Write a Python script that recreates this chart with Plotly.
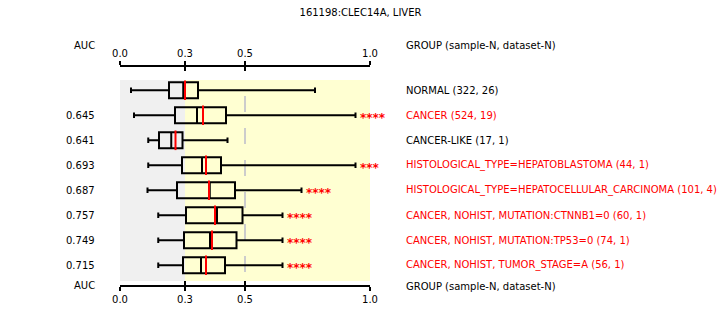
import plotly.graph_objects as go

# ---- data -------------------------------------------------------------
title_text = "161198:CLEC14A, LIVER"
groups = [
    "NORMAL (322, 26)",
    "CANCER (524, 19)",
    "CANCER-LIKE (17, 1)",
    "HISTOLOGICAL_TYPE=HEPATOBLASTOMA (44, 1)",
    "HISTOLOGICAL_TYPE=HEPATOCELLULAR_CARCINOMA (101, 4)",
    "CANCER, NOHIST, MUTATION:CTNNB1=0 (60, 1)",
    "CANCER, NOHIST, MUTATION:TP53=0 (74, 1)",
    "CANCER, NOHIST, TUMOR_STAGE=A (56, 1)",
]
highlight = [False, True, False, True, True, True, True, True]
auc = [None, "0.645", "0.641", "0.693", "0.687", "0.757", "0.749", "0.715"]
lower = [0.044, 0.056, 0.113, 0.113, 0.110, 0.153, 0.153, 0.153]
q1 = [0.196, 0.220, 0.156, 0.248, 0.228, 0.264, 0.256, 0.252]
median = [0.253, 0.308, 0.205, 0.328, 0.359, 0.388, 0.360, 0.324]
mean = [0.260, 0.332, 0.222, 0.344, 0.356, 0.380, 0.368, 0.344]
q3 = [0.312, 0.424, 0.250, 0.404, 0.460, 0.490, 0.466, 0.420]
upper = [0.780, 0.942, 0.430, 0.942, 0.726, 0.650, 0.650, 0.650]
stars = ["", "****", "", "***", "****", "****", "****", "****"]

tick_vals = [0.0, 0.26, 0.5, 1.0]
tick_text = ["0.0", "0.3", "0.5", "1.0"]
low_zone_end = 0.26      # end of the grey zone
ref_line = 0.5           # dashed reference

# ---- styling ------------------------------------------------------------
FONT = "DejaVu Sans"
RED = "#ff0000"
rows = list(range(len(groups)))

fig = go.Figure()

fig.add_trace(go.Box(
    orientation="h",
    y=rows,
    q1=q1, median=median, q3=q3,
    lowerfence=lower, upperfence=upper,
    width=0.64,
    whiskerwidth=0.34,
    fillcolor="rgba(0,0,0,0)",
    line=dict(color="black", width=2),
    boxpoints=False,
    hoverinfo="skip",
    showlegend=False,
))

# mean markers
fig.add_trace(go.Scatter(
    x=mean, y=rows, mode="markers",
    marker=dict(symbol="line-ns", size=14, color=RED,
                line=dict(color=RED, width=2)),
    hoverinfo="skip", showlegend=False,
))

# empty traces so the extra (top / tick-only) axes get drawn
for ax in ("x2", "x3", "x4"):
    fig.add_trace(go.Scatter(x=[None], y=[None], xaxis=ax, yaxis="y",
                             mode="markers", hoverinfo="skip", showlegend=False))

shapes = [
    dict(type="rect", xref="x", yref="y", x0=0, x1=low_zone_end,
         y0=-0.412, y1=7.628, fillcolor="#f0f0f0", line=dict(width=0), layer="below"),
    dict(type="rect", xref="x", yref="y", x0=low_zone_end, x1=1.0,
         y0=-0.412, y1=7.628, fillcolor="#ffffd2", line=dict(width=0), layer="below"),
    dict(type="line", xref="x", yref="y", x0=ref_line, x1=ref_line,
         y0=0.228, y1=7.628, line=dict(color="#cccccc", width=2, dash="16px,16px"),
         layer="below"),
]

annotations = []
for i in rows:
    color = RED if highlight[i] else "black"
    annotations.append(dict(
        x=1.136, xref="paper", y=i, yref="y", text=groups[i],
        xanchor="left", yanchor="middle", showarrow=False,
        font=dict(family=FONT, size=10, color=color)))
    if auc[i]:
        annotations.append(dict(
            x=-0.092, xref="paper", y=i, yref="y", text=auc[i],
            xanchor="right", yanchor="middle", showarrow=False,
            font=dict(family=FONT, size=10, color="black")))
    if stars[i]:
        annotations.append(dict(
            x=upper[i], xref="x", y=i, yref="y", text="<b>" + stars[i] + "</b>",
            xanchor="left", yanchor="middle", xshift=2, yshift=-3, showarrow=False,
            font=dict(family=FONT, size=12, color=RED)))

for ypos in (1.1009, -0.003):
    annotations.append(dict(
        x=-0.092, xref="paper", y=ypos, yref="paper", text="AUC",
        xanchor="right", yanchor="middle", showarrow=False,
        font=dict(family=FONT, size=10, color="black")))
for ypos in (1.1009, -0.009):
    annotations.append(dict(
        x=1.136, xref="paper", y=ypos, yref="paper", text="GROUP (sample-N, dataset-N)",
        xanchor="left", yanchor="middle", showarrow=False,
        font=dict(family=FONT, size=10, color="black")))

axis_common = dict(range=[0, 1], showgrid=False, zeroline=False, fixedrange=True,
                   tickvals=tick_vals)
labelled = dict(axis_common, ticktext=tick_text, showline=True, linecolor="black",
                linewidth=2, ticks="outside", ticklen=4, tickwidth=1.5, tickcolor="black",
                tickfont=dict(family=FONT, size=10, color="black"))
inner = dict(axis_common, showticklabels=False, showline=False, ticks="inside",
             ticklen=4, tickwidth=1.5, tickcolor="black")

fig.update_layout(
    width=721, height=330,
    margin=dict(l=120, r=351, t=67, b=45),
    paper_bgcolor="white", plot_bgcolor="white",
    title=dict(text=title_text, x=0.5, xref="container", xanchor="center",
               y=0.9636, yref="container", yanchor="middle",
               font=dict(family=FONT, size=10, color="black")),
    xaxis=dict(labelled, side="bottom"),
    xaxis2=dict(labelled, side="top", overlaying="x"),
    xaxis3=dict(inner, side="bottom", overlaying="x"),
    xaxis4=dict(inner, side="top", overlaying="x"),
    yaxis=dict(range=[7.788, -0.932], visible=False, fixedrange=True),
    shapes=shapes,
    annotations=annotations,
    showlegend=False,
)

fig.write_html("out.html")
